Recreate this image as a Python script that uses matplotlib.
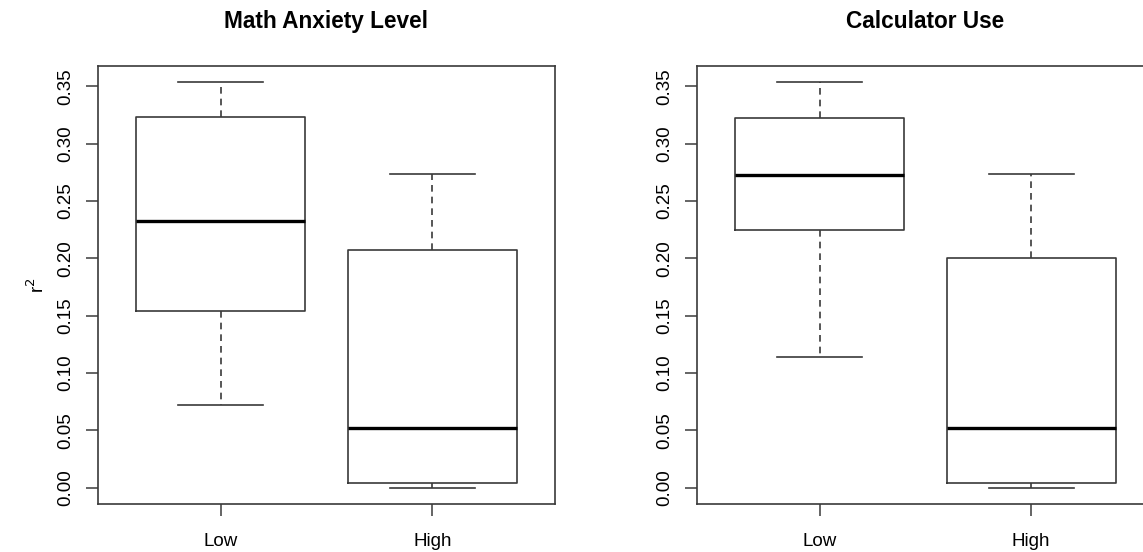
import matplotlib.pyplot as plt

plt.switch_backend('Agg')
plt.rcParams['font.family'] = 'Liberation Sans'
plt.rcParams['font.size'] = 13.5

# five-number summaries: lower whisker, Q1, median, Q3, upper whisker
groups = ['Low', 'High']
anxiety_low = [0.0722, 0.1545, 0.2328, 0.3236, 0.3538]
anxiety_high = [0.0000, 0.0041, 0.0521, 0.2077, 0.2735]
calc_low = [0.1138, 0.2249, 0.2723, 0.3224, 0.3538]
calc_high = [0.0000, 0.0044, 0.0521, 0.1999, 0.2735]

panels = [
    ('Math Anxiety Level', [anxiety_low, anxiety_high]),
    ('Calculator Use', [calc_low, calc_high]),
]
y_ticks = [0.00, 0.05, 0.10, 0.15, 0.20, 0.25, 0.30, 0.35]

LINE = '#3a3a3a'


def to_stats(summary, label):
    lo, q1, med, q3, hi = summary
    return {'label': label, 'whislo': lo, 'q1': q1, 'med': med,
            'q3': q3, 'whishi': hi, 'fliers': []}


fig = plt.figure(figsize=(11.43, 5.52), dpi=100)
axes_rects = [[0.0857, 0.087, 0.3999, 0.794],
              [0.6097, 0.087, 0.3999, 0.794]]

all_vals = [v for _, s in panels for g in s for v in g]
lo, hi = min(all_vals), max(all_vals)
pad = (hi - lo) * 0.04

for i, (title, summaries) in enumerate(panels):
    ax = fig.add_axes(axes_rects[i])
    stats = [to_stats(s, g) for s, g in zip(summaries, groups)]
    ax.bxp(stats, positions=[1, 2], widths=0.8, showfliers=False,
           boxprops=dict(color=LINE, linewidth=1.2),
           whiskerprops=dict(color=LINE, linewidth=1.2, linestyle=(0, (4, 3))),
           capprops=dict(color=LINE, linewidth=1.2),
           medianprops=dict(color='black', linewidth=2.4, solid_capstyle='butt'))

    ax.set_xlim(0.42, 2.58)
    ax.set_ylim(lo - pad, hi + pad)
    ax.set_yticks(y_ticks)
    ax.set_yticklabels([f'{t:.2f}' for t in y_ticks])
    plt.setp(ax.get_yticklabels(), rotation=90, va='center')
    ax.set_xticks([1, 2])
    ax.set_xticklabels(groups)

    ax.tick_params(axis='both', direction='out', length=8.5, width=1.1,
                   color=LINE, labelsize=13.5)
    ax.tick_params(axis='y', pad=8.5)
    ax.tick_params(axis='x', pad=12.5)
    for sp in ax.spines.values():
        sp.set_color(LINE)
        sp.set_linewidth(1.2)

    ax.set_title(title, fontsize=16.3, fontweight='bold', pad=27)
    if i == 0:
        ax.set_ylabel('r$^{2}$', fontsize=13.5)
        ax.yaxis.set_label_coords(-0.11, 0.5)

fig.savefig('out.png', dpi=100)
plt.close(fig)
